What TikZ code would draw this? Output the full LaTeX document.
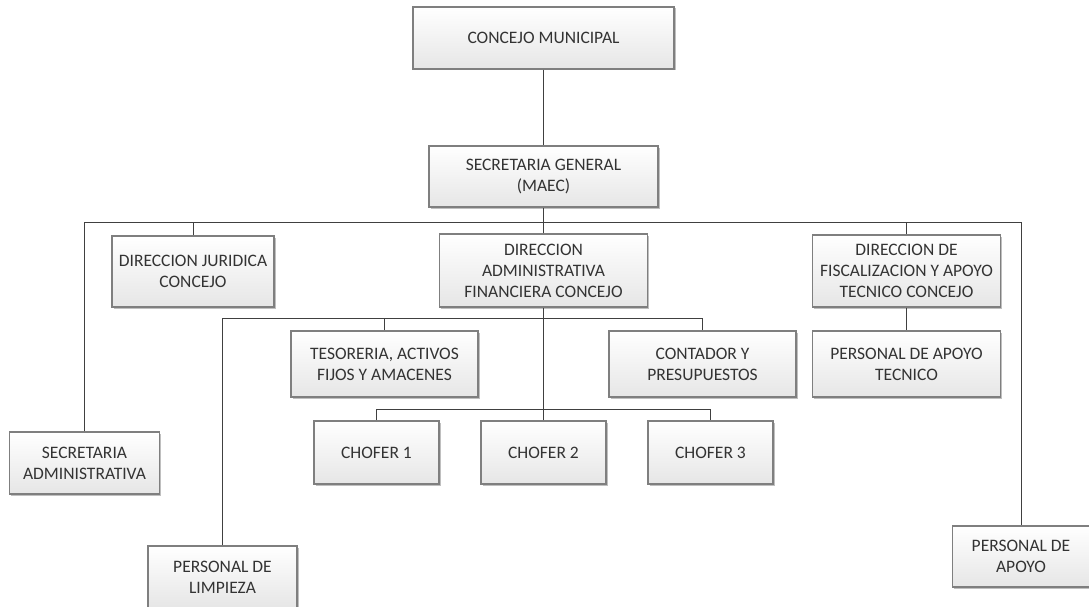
\documentclass[tikz,border=0pt]{standalone}
\usepackage{fontspec}
\setmainfont{Carlito}
\usetikzlibrary{shadows}
\definecolor{txt}{HTML}{333333}
\definecolor{edge}{HTML}{7F7F7F}
\definecolor{conn}{HTML}{404040}
\definecolor{boxbot}{HTML}{E6E6E6}
\tikzset{
  orgbox/.style={draw=edge, line width=1.2pt, top color=white, bottom color=boxbot,
    inner sep=0pt, align=center, text=txt,
    font=\fontsize{17.5}{21}\selectfont,
    drop shadow={shadow xshift=1.5pt, shadow yshift=-1.5pt, opacity=0.25, fill=black}},
  link/.style={draw=conn, line width=1pt}
}
\begin{document}
\begin{tikzpicture}[x=1pt,y=-1pt]
\useasboundingbox (0,0) rectangle (1089,607);
\node[orgbox, minimum width=261pt, minimum height=62pt] (cm) at (543.5,38) {CONCEJO MUNICIPAL};
\node[orgbox, minimum width=229pt, minimum height=61pt] (sg) at (543.5,176.5) {SECRETARIA GENERAL\\(MAEC)};
\node[orgbox, minimum width=162pt, minimum height=71pt] (jur) at (193,271.5) {DIRECCION JURIDICA\\CONCEJO};
\node[orgbox, minimum width=208pt, minimum height=73pt] (daf) at (543.5,270.5) {DIRECCION\\ADMINISTRATIVA\\FINANCIERA CONCEJO};
\node[orgbox, minimum width=188pt, minimum height=72pt] (fis) at (906.5,271) {DIRECCION DE\\FISCALIZACION Y APOYO\\TECNICO CONCEJO};
\node[orgbox, minimum width=188pt, minimum height=66pt] (pat) at (906.5,364) {PERSONAL DE APOYO\\TECNICO};
\node[orgbox, minimum width=187pt, minimum height=66pt] (tes) at (384.5,364) {TESORERIA, ACTIVOS\\FIJOS Y AMACENES};
\node[orgbox, minimum width=187pt, minimum height=66pt] (con) at (702.5,364) {CONTADOR Y\\PRESUPUESTOS};
\node[orgbox, minimum width=125pt, minimum height=63pt] (ch1) at (376.5,452.5) {CHOFER 1};
\node[orgbox, minimum width=125pt, minimum height=63pt] (ch2) at (543.5,452.5) {CHOFER 2};
\node[orgbox, minimum width=125pt, minimum height=63pt] (ch3) at (710.5,452.5) {CHOFER 3};
\node[orgbox, minimum width=150pt, minimum height=62pt] (sa) at (84.5,463) {SECRETARIA\\ADMINISTRATIVA};
\node[orgbox, minimum width=149pt, minimum height=62pt] (pl) at (222.5,577) {PERSONAL DE\\LIMPIEZA};
\node[orgbox, minimum width=137pt, minimum height=61pt] (pa) at (1021,556.5) {PERSONAL DE\\APOYO};
\coordinate (b1) at (543.5,222.5);
\coordinate (b2) at (543.5,318);
\coordinate (b3) at (543.5,409);
\draw[link] (cm.south) -- (sg.north);
\draw[link] (sg.south) -- (b1);
\draw[link] (sa.north) -- (sa.north |- b1) -- (pa.north |- b1) -- (pa.north);
\draw[link] (jur.north) -- (jur.north |- b1);
\draw[link] (daf.north) -- (daf.north |- b1);
\draw[link] (fis.north) -- (fis.north |- b1);
\draw[link] (fis.south) -- (pat.north);
\draw[link] (daf.south) -- (b3);
\draw[link] (pl.north) -- (pl.north |- b2) -- (con.north |- b2) -- (con.north);
\draw[link] (tes.north) -- (tes.north |- b2);
\draw[link] (ch1.north) -- (ch1.north |- b3) -- (ch3.north |- b3) -- (ch3.north);
\draw[link] (ch2.north) -- (ch2.north |- b3);
\end{tikzpicture}
\end{document}
